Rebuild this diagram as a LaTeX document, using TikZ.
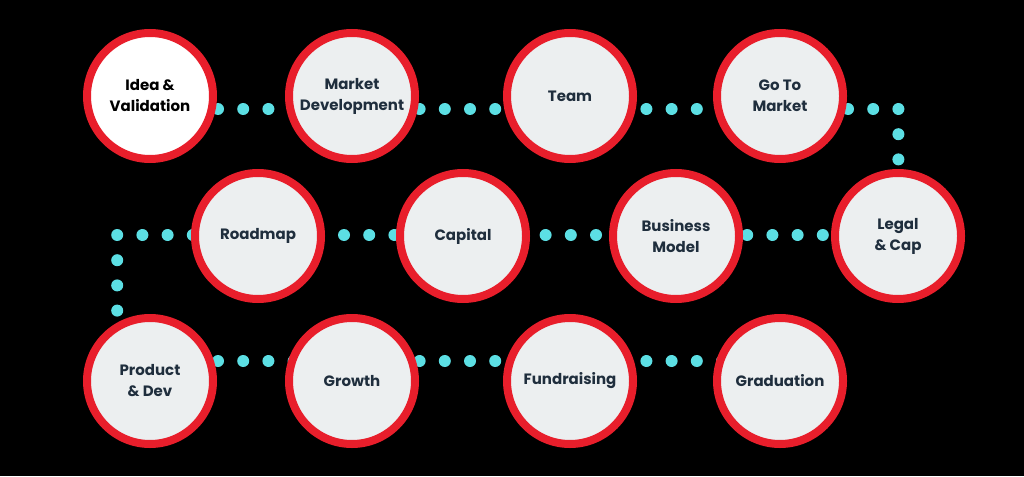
\documentclass[tikz,border=0pt]{standalone}
\usepackage{fontspec}
\setmainfont{Poppins}
\definecolor{ringred}{HTML}{E81E2B}
\definecolor{dotcyan}{HTML}{5CDFE4}
\definecolor{fillgrey}{HTML}{ECEFF0}
\definecolor{textnavy}{HTML}{1F2E3D}
\begin{document}
\begin{tikzpicture}[x=1pt,y=-1pt,
  stage/.style={circle, draw=ringred, line width=8pt, fill=fillgrey, minimum size=126pt,
    inner sep=0pt, align=center, font=\fontsize{15}{21}\selectfont\bfseries, text=textnavy},
  firststage/.style={stage, fill=white, text=black},
  dotpath/.style={draw=dotcyan, line width=12pt, line cap=round, line join=round,
    dash pattern=on 0pt off 25.2pt}]
\fill[black] (0,0) rectangle (1024,476);
\useasboundingbox (0,0) rectangle (1024,476);
% path corners
\coordinate (d0) at (117.2,109);
\coordinate (d1) at (898.4,109);
\coordinate (d2) at (898.4,235);
\coordinate (d3) at (117.2,235);
\coordinate (d4) at (117.2,361);
\coordinate (d5) at (772.4,361);
\draw[dotpath] (d0) -- (d1) -- (d2) -- (d3) -- (d4) -- (d5);
% row 1
\node[firststage] (idea) at (150,96) {Idea \&\\Validation};
\node[stage] (market) at (352,96) {Market\\Development};
\node[stage] (team) at (570,96) {Team};
\node[stage] (gtm) at (780,96) {Go To\\Market};
% row 2
\node[stage] (legal) at (898,236) {Legal\\\& Cap};
\node[stage] (business) at (676,236) {Business\\Model};
\node[stage] (capital) at (463,236) {Capital};
\node[stage] (roadmap) at (258,236) {Roadmap};
% row 3
\node[stage] (product) at (150,381) {Product\\\& Dev};
\node[stage] (growth) at (352,381) {Growth};
\node[stage] (fund) at (570,381) {Fundraising};
\node[stage] (grad) at (780,381) {Graduation};
\end{tikzpicture}
\end{document}
